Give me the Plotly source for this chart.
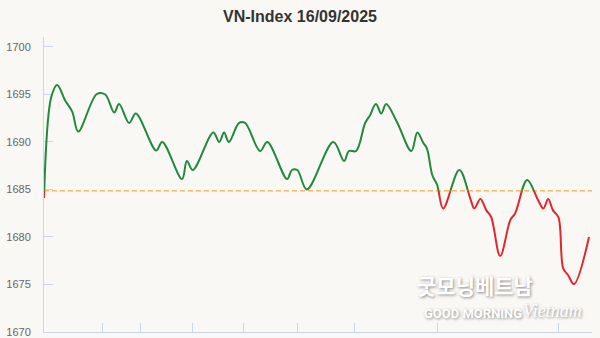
import plotly.graph_objects as go

# ---- data ----
title_text = "VN-Index 16/09/2025"
reference_level = 1684.88
t_index = [0, 1.2, 2.2, 3.5, 4.7, 5.7, 8.8, 10.2, 11.7, 12.5, 14.2, 15.3, 18.7, 19.7,
           23.0, 23.8, 24.8, 28.2, 29.2, 30.0, 30.8, 32.5, 33.5, 36.0, 37.2, 40.5,
           41.3, 42.2, 43.8, 48.2, 50.0, 50.8, 52.0, 53.5, 54.3, 55.3, 56.2, 57.0,
           58.8, 61.2, 62.2, 63.2, 63.8, 64.7, 65.5, 66.5, 69.2, 71.0, 71.7, 72.7,
           73.7, 74.5, 76.0, 77.7, 78.5, 80.5, 82.3, 83.2, 84.0, 84.8, 85.7, 86.5,
           87.3, 88.3, 90.8]
index_values = [1684.1, 1694.7, 1696.0, 1694.4, 1693.2, 1691.1, 1695.05, 1695.0, 1693.1,
                1694.0, 1692.0, 1693.0, 1689.1, 1690.0, 1686.1, 1688.0, 1687.05, 1691.0,
                1690.0, 1691.0, 1690.0, 1692.0, 1692.0, 1689.05, 1690.0, 1686.1, 1687.05,
                1687.05, 1685.0, 1690.0, 1688.0, 1689.05, 1689.05, 1692.0, 1692.8, 1694.0,
                1693.0, 1694.0, 1692.1, 1689.05, 1691.0, 1689.9, 1689.3, 1686.5, 1685.5,
                1683.0, 1687.05, 1684.1, 1683.0, 1684.0, 1682.8, 1682.1, 1678.0, 1681.8,
                1682.5, 1686.0, 1683.9, 1683.0, 1684.0, 1682.8, 1682.1, 1676.7, 1676.0,
                1675.05, 1680.0]
x_tick_positions = [9.8, 16.0, 24.7, 33.3, 42.2, 51.7, 65.5, 85.7]
y_tick_values = [1670, 1675, 1680, 1685, 1690, 1695, 1700]
x_range = [0, 91.3]
y_range = [1670, 1701.05]

green = "#1f8a3d"
red = "#e0262f"
axis_col = "#ccd6eb"
bg = "#faf8f4"

split = (reference_level - y_range[0]) / (y_range[1] - y_range[0])

fig = go.Figure()
# green part: subplot whose domain covers only the area above the reference level
fig.add_trace(go.Scatter(x=t_index, y=index_values, mode="lines", xaxis="x", yaxis="y2",
                         line=dict(color=green, width=2, shape="spline"),
                         hoverinfo="skip", showlegend=False))
# red part: subplot below reference level
fig.add_trace(go.Scatter(x=t_index, y=index_values, mode="lines", xaxis="x", yaxis="y3",
                         line=dict(color=red, width=2, shape="spline"),
                         hoverinfo="skip", showlegend=False))

fig.add_shape(type="line", xref="x", yref="y", x0=x_range[0], x1=x_range[1],
              y0=reference_level, y1=reference_level,
              line=dict(color="#f8b867", width=1.5, dash="5px,3px"), layer="below")

font_family = "Liberation Sans, Arial, sans-serif"
fig.update_layout(
    width=600, height=338,
    margin=dict(l=44, r=8, t=37, b=6),
    paper_bgcolor=bg, plot_bgcolor="rgba(0,0,0,0)",
    title=dict(text=title_text, x=0.5, xanchor="center", y=1 - 16 / 338, yanchor="middle",
               yref="container",
               font=dict(family=font_family, size=16, color="#333333", weight="bold")),
    xaxis=dict(range=x_range, domain=[0, 1], anchor="y", showgrid=False, zeroline=False,
               showline=True, linecolor=axis_col, linewidth=1, automargin=False,
               ticks="inside", ticklen=9, tickcolor=axis_col, tickwidth=1,
               tickvals=x_tick_positions, showticklabels=False),
    yaxis=dict(range=y_range, domain=[0, 1], anchor="x", showgrid=False, zeroline=False,
               showline=True, linecolor=axis_col, linewidth=1, automargin=False,
               ticks="inside", ticklen=9, tickcolor=axis_col, tickwidth=1,
               tickvals=y_tick_values, ticklabelstandoff=10,
               tickfont=dict(family=font_family, size=11, color="#666666")),
    yaxis2=dict(range=[reference_level, y_range[1]], domain=[split, 1], anchor="x",
                visible=False, showgrid=False, zeroline=False, automargin=False),
    yaxis3=dict(range=[y_range[0], reference_level], domain=[0, split], anchor="x",
                visible=False, showgrid=False, zeroline=False, automargin=False),
)

shadow = "1px 1px 3px rgba(0,0,0,0.45)"
fig.add_annotation(text="굿모닝베트남", xref="paper", yref="paper", x=0.787, y=0.158,
                   showarrow=False, xanchor="center", yanchor="middle",
                   font=dict(family="Noto Sans CJK KR", size=21, color="white",
                             weight="bold", shadow=shadow))
fig.add_annotation(text="GOOD MORNING", xref="paper", yref="paper", x=0.782, y=0.062,
                   showarrow=False, xanchor="center", yanchor="middle",
                   font=dict(family="Roboto", size=13,
                             color="white", weight="bold", shadow=shadow))
fig.add_annotation(text="Vietnam", xref="paper", yref="paper", x=0.928, y=0.072,
                   showarrow=False, xanchor="center", yanchor="middle",
                   font=dict(family="Liberation Serif", size=18, color="white",
                             style="italic", shadow=shadow))

fig.write_html("out.html")
